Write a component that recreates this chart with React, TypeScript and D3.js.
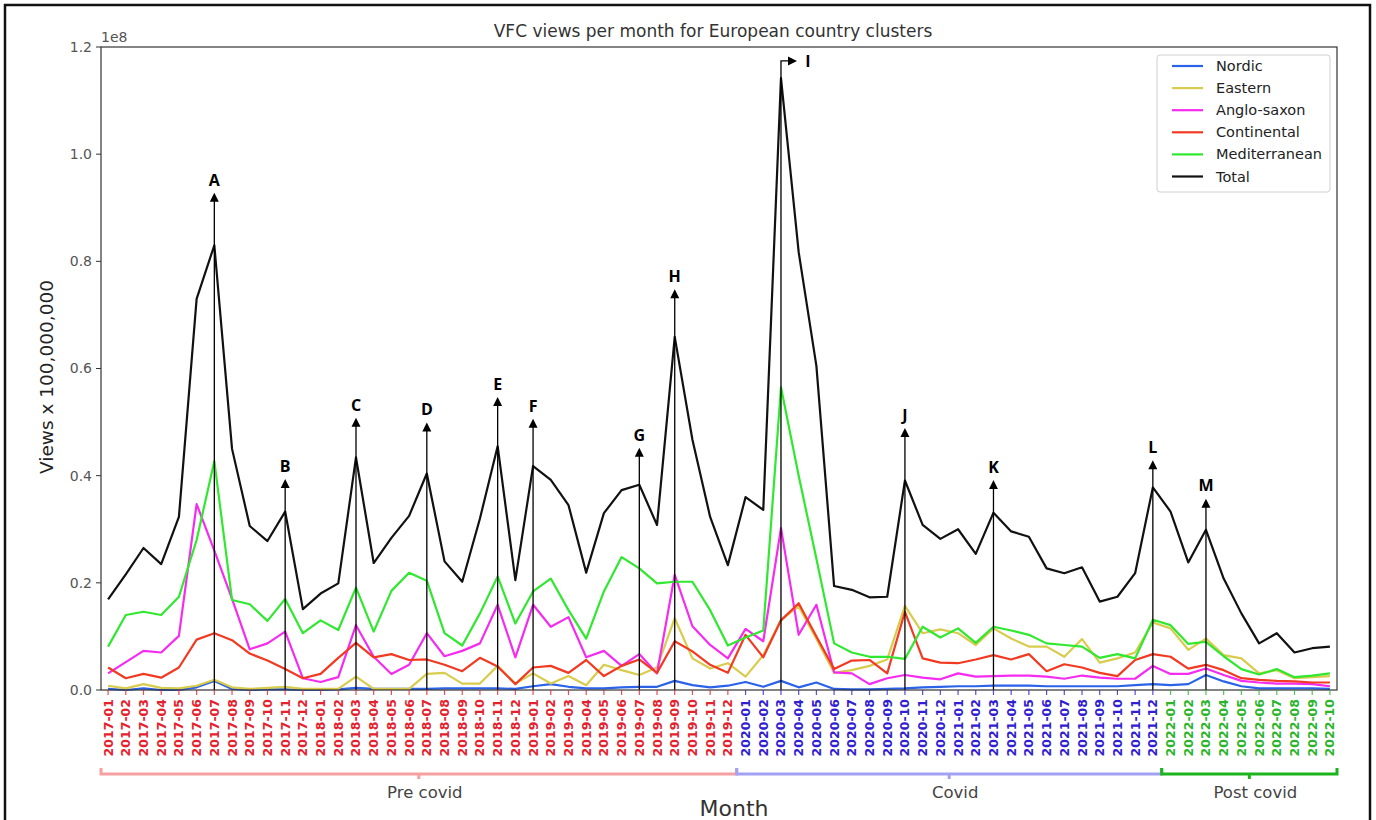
import React from "react";
import * as d3 from "d3";

const months = [
  "2017-01","2017-02","2017-03","2017-04","2017-05","2017-06","2017-07","2017-08","2017-09","2017-10","2017-11","2017-12",
  "2018-01","2018-02","2018-03","2018-04","2018-05","2018-06","2018-07","2018-08","2018-09","2018-10","2018-11","2018-12",
  "2019-01","2019-02","2019-03","2019-04","2019-05","2019-06","2019-07","2019-08","2019-09","2019-10","2019-11","2019-12",
  "2020-01","2020-02","2020-03","2020-04","2020-05","2020-06","2020-07","2020-08","2020-09","2020-10","2020-11","2020-12",
  "2021-01","2021-02","2021-03","2021-04","2021-05","2021-06","2021-07","2021-08","2021-09","2021-10","2021-11","2021-12",
  "2022-01","2022-02","2022-03","2022-04","2022-05","2022-06","2022-07","2022-08","2022-09","2022-10",
];

// values in units of 1e8 views
const nordic = [
  0.002,0.000,0.003,0.000,0.000,0.005,0.017,0.002,0.000,0.001,0.001,0.000,
  0.000,0.001,0.004,0.002,0.002,0.002,0.002,0.003,0.003,0.003,0.003,0.002,
  0.007,0.011,0.006,0.003,0.003,0.005,0.006,0.006,0.017,0.009,0.005,0.008,
  0.015,0.006,0.017,0.005,0.014,0.002,0.001,0.001,0.002,0.003,0.005,0.006,
  0.007,0.007,0.008,0.008,0.008,0.007,0.007,0.007,0.007,0.007,0.009,0.011,
  0.009,0.011,0.028,0.016,0.007,0.003,0.003,0.003,0.003,0.002,
];
const eastern = [
  0.008,0.003,0.011,0.004,0.003,0.008,0.019,0.005,0.002,0.004,0.006,0.002,
  0.002,0.002,0.025,0.002,0.002,0.002,0.030,0.032,0.012,0.012,0.045,0.012,
  0.031,0.012,0.026,0.009,0.047,0.037,0.028,0.042,0.134,0.059,0.040,0.050,
  0.025,0.065,0.131,0.156,0.095,0.032,0.037,0.045,0.057,0.157,0.106,0.113,
  0.106,0.084,0.115,0.096,0.081,0.081,0.062,0.095,0.051,0.059,0.070,0.126,
  0.115,0.075,0.096,0.065,0.059,0.031,0.037,0.022,0.024,0.026,
];
const angloSaxon = [
  0.031,0.052,0.073,0.070,0.101,0.347,0.260,0.170,0.076,0.087,0.109,0.022,
  0.015,0.024,0.121,0.062,0.030,0.047,0.106,0.063,0.073,0.087,0.159,0.061,
  0.159,0.118,0.136,0.061,0.073,0.045,0.067,0.031,0.215,0.119,0.084,0.059,
  0.114,0.091,0.302,0.103,0.159,0.033,0.031,0.011,0.022,0.028,0.023,0.020,
  0.031,0.025,0.026,0.027,0.027,0.025,0.021,0.027,0.023,0.021,0.021,0.045,
  0.030,0.030,0.040,0.028,0.017,0.014,0.012,0.012,0.011,0.007,
];
const continental = [
  0.042,0.022,0.030,0.023,0.042,0.094,0.106,0.093,0.068,0.055,0.039,0.022,
  0.030,0.060,0.088,0.061,0.067,0.056,0.057,0.047,0.035,0.060,0.044,0.011,
  0.042,0.045,0.032,0.056,0.026,0.045,0.057,0.032,0.091,0.072,0.047,0.032,
  0.103,0.061,0.130,0.162,0.100,0.039,0.055,0.056,0.031,0.146,0.059,0.051,
  0.050,0.057,0.065,0.057,0.067,0.035,0.048,0.042,0.032,0.026,0.056,0.067,
  0.062,0.040,0.047,0.037,0.022,0.019,0.017,0.016,0.014,0.014,
];
const mediterranean = [
  0.081,0.140,0.146,0.140,0.174,0.280,0.427,0.168,0.160,0.129,0.170,0.106,
  0.130,0.112,0.191,0.109,0.185,0.219,0.204,0.106,0.083,0.143,0.212,0.124,
  0.184,0.208,0.149,0.096,0.184,0.248,0.227,0.199,0.202,0.202,0.149,0.083,
  0.098,0.111,0.565,0.400,0.245,0.087,0.070,0.062,0.062,0.058,0.118,0.098,
  0.115,0.088,0.118,0.111,0.103,0.087,0.084,0.081,0.060,0.067,0.059,0.131,
  0.121,0.086,0.090,0.063,0.039,0.029,0.039,0.024,0.027,0.031,
];
const total = [
  0.169,0.216,0.265,0.235,0.323,0.730,0.830,0.450,0.306,0.278,0.333,0.151,
  0.180,0.199,0.434,0.237,0.284,0.325,0.404,0.240,0.202,0.320,0.455,0.205,
  0.418,0.392,0.345,0.219,0.330,0.373,0.383,0.308,0.659,0.467,0.323,0.233,
  0.360,0.336,1.142,0.817,0.605,0.194,0.187,0.173,0.174,0.391,0.308,0.282,
  0.300,0.254,0.331,0.296,0.286,0.227,0.218,0.229,0.165,0.174,0.218,0.378,
  0.333,0.238,0.299,0.208,0.143,0.087,0.106,0.070,0.078,0.081,
];

const seriesNames = ["Nordic", "Eastern", "Anglo-saxon", "Continental", "Mediterranean", "Total"];
const seriesValues = [nordic, eastern, angloSaxon, continental, mediterranean, total];
const seriesColors = ["#2a62e8", "#d8cc4e", "#f52cf0", "#f23a22", "#2fe82f", "#111111"];

const yTicks = [0, 0.2, 0.4, 0.6, 0.8, 1.0, 1.2];

const periodNames = ["Pre covid", "Covid", "Post covid"];
const periodFirst = ["2017-01", "2020-01", "2022-01"];
const periodLast = ["2019-12", "2021-12", "2022-10"];
const periodTickColors = ["#e4222e", "#3020d0", "#2cb52c"];
const periodBracketColors = ["#f6a0a0", "#a2a2f4", "#1cb41c"];

const annotLabels = ["A", "B", "C", "D", "E", "F", "G", "H", "I", "J", "K", "L", "M"];
const annotMonths = ["2017-07", "2017-11", "2018-03", "2018-07", "2018-11", "2019-01", "2019-07", "2019-09", "2020-03", "2020-10", "2021-03", "2021-12", "2022-03"];
const annotTops = [0.928, 0.394, 0.508, 0.499, 0.547, 0.506, 0.452, 0.748, 1.174, 0.489, 0.392, 0.429, 0.357];

const FONT = "DejaVu Sans, sans-serif";

export default function App() {
  const L = 101, R = 1337, T = 47, B = 690;
  const n = months.length;
  const x = d3.scaleLinear().domain([-0.4, n - 1 + 0.4]).range([L, R]);
  const y = d3.scaleLinear().domain([0, 1.2]).range([B, T]);
  const line = d3
    .line<number>()
    .x((_, i) => x(i))
    .y((d) => y(d));

  const periodOf = (i: number) => {
    for (let p = 0; p < periodFirst.length; p++) {
      const a = months.indexOf(periodFirst[p]);
      const b = months.indexOf(periodLast[p]);
      if (i >= a && i <= b) return p;
    }
    return 0;
  };

  const legendX = 1157, legendY = 55, legendRow = 22.1;

  return (
    <svg
      width={1376}
      height={820}
      style={{ position: "absolute", left: 0, top: 0, background: "#fff" }}
      fontFamily={FONT}
    >
      <rect x={0} y={0} width={1376} height={820} fill="#fff" />
      {/* outer frame */}
      <rect x={5} y={5} width={1365} height={830} fill="none" stroke="#111" strokeWidth={2.5} />

      {/* title */}
      <text x={(L + R) / 2 - 6} y={37} textAnchor="middle" fontSize={17} fill="#333">
        VFC views per month for European country clusters
      </text>

      {/* y axis */}
      {yTicks.map((t) => (
        <g key={t}>
          <line x1={L - 5} x2={L} y1={y(t)} y2={y(t)} stroke="#333" strokeWidth={1} />
          <text x={L - 9} y={y(t)} dy="0.35em" textAnchor="end" fontSize={14} fill="#555">
            {t.toFixed(1)}
          </text>
        </g>
      ))}
      <text x={L} y={42} fontSize={14} fill="#555">1e8</text>
      <text
        transform={`translate(${47},${377}) rotate(-90)`}
        textAnchor="middle"
        dy="0.35em"
        fontSize={18.5}
        fill="#222"
      >
        Views x 100,000,000
      </text>

      {/* series */}
      {seriesValues.map((vals, s) => (
        <path
          key={seriesNames[s]}
          d={line(vals) || ""}
          fill="none"
          stroke={seriesColors[s]}
          strokeWidth={2.2}
          strokeLinejoin="round"
        />
      ))}

      {/* annotations */}
      {annotLabels.map((lab, k) => {
        const i = months.indexOf(annotMonths[k]);
        const xi = x(i);
        const yt = y(annotTops[k]);
        if (lab === "I") {
          const xe = xi + 16;
          return (
            <g key={lab}>
              <path d={`M${xi},${B} V${yt} H${xe - 8}`} fill="none" stroke="#000" strokeWidth={1.3} />
              <path d={`M${xe},${yt} L${xe - 9},${yt - 4.5} L${xe - 9},${yt + 4.5} Z`} fill="#000" />
              <text x={xe + 11} y={yt} dy="0.36em" textAnchor="middle" fontSize={16} fontWeight={700} fontFamily="Open Sans, sans-serif" fill="#000">
                {lab}
              </text>
            </g>
          );
        }
        return (
          <g key={lab}>
            <line x1={xi} x2={xi} y1={B} y2={yt + 8} stroke="#000" strokeWidth={1.3} />
            <path d={`M${xi},${yt} L${xi - 4.5},${yt + 9} L${xi + 4.5},${yt + 9} Z`} fill="#000" />
            <text x={xi} y={yt - 13} dy="0.36em" textAnchor="middle" fontSize={16} fontWeight={700} fontFamily="Open Sans, sans-serif" fill="#000">
              {lab}
            </text>
          </g>
        );
      })}

      {/* plot frame */}
      <rect x={L} y={T} width={R - L} height={B - T} fill="none" stroke="#333" strokeWidth={1.2} />

      {/* x ticks and labels */}
      {months.map((m, i) => {
        const c = periodTickColors[periodOf(i)];
        return (
          <g key={m}>
            <line x1={x(i)} x2={x(i)} y1={B} y2={B + 5} stroke={c} strokeWidth={1.2} opacity={0.8} />
            <text
              transform={`translate(${x(i)},${B + 9}) rotate(-90)`}
              textAnchor="end"
              dy="0.36em"
              fontSize={12.5}
              fontWeight={700}
              fill={c}
            >
              {m}
            </text>
          </g>
        );
      })}

      {/* period brackets */}
      {periodNames.map((p, k) => {
        const a = months.indexOf(periodFirst[k]);
        const b = months.indexOf(periodLast[k]);
        const x0 = k === 0 ? L : x(a - 0.5);
        const x1 = k === periodNames.length - 1 ? R : x(b + 0.5);
        const yb = 774;
        const xm = (x0 + x1) / 2;
        return (
          <g key={p}>
            <path
              d={`M${x0},${yb - 6} V${yb} H${x1} V${yb - 6} M${xm},${yb} V${yb + 5}`}
              fill="none"
              stroke={periodBracketColors[k]}
              strokeWidth={3}
            />
            <text x={xm + 6} y={798} textAnchor="middle" fontSize={16.5} fill="#444">
              {p}
            </text>
          </g>
        );
      })}

      <text x={(L + R) / 2 + 15} y={816} textAnchor="middle" fontSize={22} fill="#333">
        Month
      </text>

      {/* legend */}
      <rect x={legendX} y={legendY} width={173} height={137} rx={3} fill="#fff" stroke="#d0d0d0" strokeWidth={1} />
      {seriesNames.map((s, k) => (
        <g key={s}>
          <line
            x1={legendX + 15}
            x2={legendX + 46}
            y1={legendY + 11 + k * legendRow}
            y2={legendY + 11 + k * legendRow}
            stroke={seriesColors[k]}
            strokeWidth={2.2}
          />
          <text x={legendX + 59} y={legendY + 11 + k * legendRow} dy="0.35em" fontSize={14.5} fill="#222">
            {s}
          </text>
        </g>
      ))}
    </svg>
  );
}
